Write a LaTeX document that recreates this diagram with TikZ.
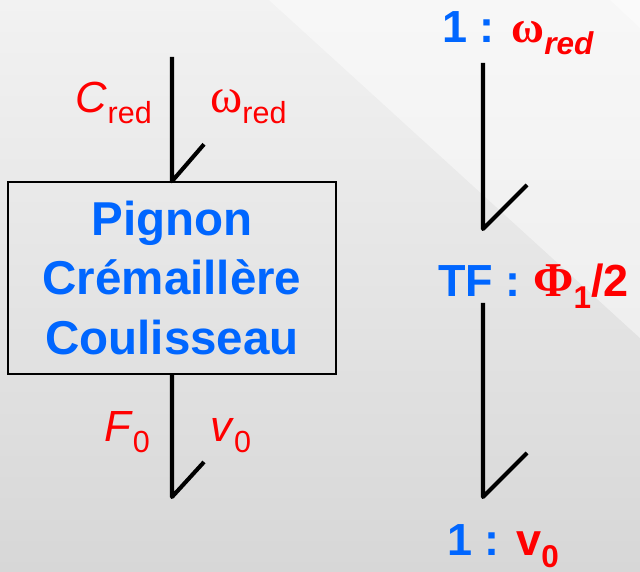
\documentclass[tikz,border=0pt]{standalone}
\usepackage{fontspec}
\setmainfont{Liberation Sans}
\newfontfamily\grk{Liberation Serif}
\usetikzlibrary{positioning, calc}
\definecolor{LabelBlue}{RGB}{0,102,255}
\definecolor{LabelRed}{RGB}{255,0,0}
\definecolor{BgTop}{RGB}{242,242,242}
\definecolor{BgBottom}{RGB}{215,215,215}
\newcommand{\lo}[1]{\raisebox{-0.25em}{\scalebox{0.7}{#1}}}

\begin{document}
\begin{tikzpicture}[
        box/.style={draw,line width=1pt,minimum width=8.2cm,minimum height=4.8cm,
                    align=center,text=LabelBlue,
                    font=\bfseries\fontsize{33.8}{42}\selectfont},
        lbl/.style={text=LabelRed,inner sep=0pt,font=\fontsize{31}{36}\selectfont},
        tag/.style={inner sep=0pt,font=\bfseries\fontsize{32}{38}\selectfont},
        bond/.style={line width=2.9pt,line join=round}
      ]
        \useasboundingbox (0,0) rectangle (16,14.3);
        % background
        \shade[top color=BgTop,bottom color=BgBottom] (0,0) rectangle (16,14.3);
        \fill[white,opacity=0.45] (6.725,14.3) -- (16,14.3) -- (16,5.85) -- cycle;
        \fill[white,opacity=0.4] (15.25,14.3) -- (16,14.3) -- (16,13.6) -- cycle;
        % left: word bond graph
        \node[box] (pcc) at (4.3,7.35) {Pignon\\Crémaillère\\Coulisseau};
        \coordinate (inL) at (4.3,12.875);
        \coordinate (outL) at (4.3,1.875);
        \draw[bond] (inL) -- (pcc.north) -- ++(0.8,0.925);
        \draw[bond] (pcc.south) -- (outL) -- ++(0.8,0.875);
        \node[lbl,anchor=base east] (cred) at (3.8,11.475) {\textit{C}\lo{red}};
        \node[lbl,anchor=base west] (wred) at (5.25,11.475) {\scalebox{1.12}{\grk ω}\lo{red}};
        \node[lbl,anchor=base east] (fzero) at (3.75,3.25) {\textit{F}\lo{0}};
        \node[lbl,anchor=base west] (vzero) at (5.25,3.25) {\textit{v}\lo{0}};
        % right: junctions and transformer
        \node[tag,anchor=base west] (onew) at (11.05,13.225)
          {\textcolor{LabelBlue}{1 :} \textcolor{LabelRed}{{\grk ω}\lo{\textit{red}}}};
        \node[tag,anchor=base west] (tf) at (10.95,6.875)
          {\textcolor{LabelBlue}{TF :} \textcolor{LabelRed}{\scalebox{1.08}{\grk Φ}\lo{1}/2}};
        \node[tag,anchor=base west] (onev) at (11.175,0.4)
          {\textcolor{LabelBlue}{1 :} \textcolor{LabelRed}{v\lo{0}}};
        \coordinate (a1) at (12.075,12.725);
        \coordinate (a2) at (12.075,8.575);
        \coordinate (b1) at (12.075,6.725);
        \coordinate (b2) at (12.075,1.875);
        \draw[bond] (a1) -- (a2) -- ++(1.1,1.1);
        \draw[bond] (b1) -- (b2) -- ++(1.1,1.1);
      \end{tikzpicture}
\end{document}
